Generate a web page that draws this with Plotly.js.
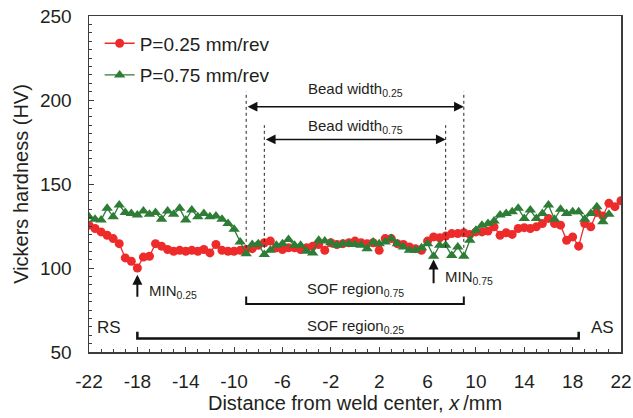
<!DOCTYPE html>
<html>
<head>
<meta charset="utf-8">
<script src="https://cdn.plot.ly/plotly-3.0.1.min.js"></script>
<style>html,body{margin:0;padding:0;background:#fff;}#chart{width:633px;height:418px;}</style>
</head>
<body>
<div id="chart"></div>
<script>
// ---- data ----
const seriesNames = ["P=0.25 mm/rev", "P=0.75 mm/rev"];

const xRed = [-22,-21.5,-21,-20.5,-20,-19.5,-19,-18.5,-18,-17.5,-17,-16.5,-16,-15.5,-15,-14.5,-14,-13.5,-13,-12.5,-12,-11.5,-11,-10.5,-10,-9.5,-9,-8.5,-8,-7.5,-7,-6.5,-6,-5.5,-5,-4.5,-4,-3.5,-3,-2.5,-2,-1.5,-1,-0.5,0,0.5,1,1.5,2,2.5,3,3.5,4,4.5,5,5.5,6,6.5,7,7.5,8,8.5,9,9.5,10,10.5,11,11.5,12,12.5,13,13.5,14,14.5,15,15.5,16,16.5,17,17.5,18,18.5,19,19.5,20,20.5,21,21.5,22];
const hvRed = [125.5,123.5,121.5,119.5,117.5,114.5,106,104,100,106.5,107,114.5,113,111,110,110.5,110,110.5,110,111,109,114,110.5,110,110,110.5,111,111.5,113.5,115,116,112,111,112,112,111,112,113,114,110.5,115,114,114.5,115,116,115,114.5,115,110.5,117.5,117.5,114.5,114,112.5,111.5,110.5,116,118.5,118,119,120.5,120.5,121,120,121.5,121.5,122,124.5,119.5,121,120,123.5,124,123.5,124.5,126.5,129.5,126.5,125.5,116.5,118.5,113,126.5,124.5,133,131,138.5,136.5,140];

const xGreen = [-22,-21.5,-21,-20.5,-20,-19.5,-19,-18.5,-18,-17.5,-17,-16.5,-16,-15.5,-15,-14.5,-14,-13.5,-13,-12.5,-12,-11.5,-11,-10.5,-10,-9.5,-9,-8.5,-8,-7.5,-7,-6.5,-6,-5.5,-5,-4.5,-4,-3.5,-3,-2.5,-2,-1.5,-1,-0.5,0,0.5,1,1.5,2,2.5,3,3.5,4,4.5,5,5.5,6,6.5,7,7.5,8,8.5,9,9.5,10,10.5,11,11.5,12,12.5,13,13.5,14,14.5,15,15.5,16,16.5,17,17.5,18,18.5,19,19.5,20,20.5,21];
const hvGreen = [130.5,129,128.5,135.5,130.5,137.5,133,132.5,131.5,134,132,133,129,134,132,135.5,128.5,134.5,130.5,132.5,130.5,131,129,126.5,123,115.5,108.5,114,114.5,108,110.5,113.5,114.5,117,113.5,113.5,110,109,116.5,116,115,113.5,114.5,114.5,114,113.5,111.5,115.5,114.5,115.5,117.5,114.5,112.5,110.5,110.5,112,114.5,107,113.5,113.5,107.5,112.5,107,116.5,122.5,125.5,126.5,128,131.5,132.5,133.5,135.5,129.5,134.5,129.5,132.5,137.5,129,135,132.5,133.5,133.5,129,132.5,136.5,127.5,132];

const xTickVals = [-22,-18,-14,-10,-6,-2,2,6,10,14,18,22];
const xTickText = ["-22","-18","-14","-10","-6","-2","2","6","10","14","18","22"];
const yTickVals = [50,100,150,200,250];

// region limits (mm) and labels
const bead025 = [-9, 9];
const bead075 = [-7.5, 7.5];
const sof075 = [-9, 9];
const sof025 = [-18, 18.5];
const minX = [-18, 6.5];

const FONT = "Liberation Sans, Arial, Helvetica, sans-serif";
const TXT = "#231f20";
const RED = "#ee2b2b";
const GREEN = "#2e7d36";

const traces = [
  {x: xRed, y: hvRed, name: seriesNames[0], type: "scatter", mode: "lines+markers",
   line: {color: RED, width: 1.3}, marker: {symbol: "circle", size: 9, color: RED},
   legendgroup: "a"},
  {x: xGreen, y: hvGreen, name: seriesNames[1], type: "scatter", mode: "lines+markers",
   line: {color: GREEN, width: 1.3}, marker: {symbol: "triangle-up", size: 10, color: GREEN},
   legendgroup: "b"}
];

const dashStyle = {color: "#222", width: 1, dash: "3px,3px"};
const shapes = [
  {type:"line", xref:"x", yref:"y", x0:bead025[0], x1:bead025[0], y0:112, y1:205, line:dashStyle},
  {type:"line", xref:"x", yref:"y", x0:bead025[1], x1:bead025[1], y0:112, y1:205, line:dashStyle},
  {type:"line", xref:"x", yref:"y", x0:bead075[0], x1:bead075[0], y0:112, y1:185, line:dashStyle},
  {type:"line", xref:"x", yref:"y", x0:bead075[1], x1:bead075[1], y0:112, y1:185, line:dashStyle},
  {type:"path", xref:"x", yref:"y",
   path:`M ${sof075[0]},83 L ${sof075[0]},78.5 L ${sof075[1]},78.5 L ${sof075[1]},83`,
   line:{color:"#111", width:2}},
  {type:"path", xref:"x", yref:"y",
   path:`M ${sof025[0]},62 L ${sof025[0]},58 L ${sof025[1]},58 L ${sof025[1]},62`,
   line:{color:"#111", width:2.5}}
];

const annFont = {family: FONT, size: 15, color: TXT};
const annotations = [
  // bead width arrows
  {x: bead025[1], y: 196, ax: bead025[0], ay: 196, xref:"x", yref:"y", axref:"x", ayref:"y",
   text:"", showarrow:true, arrowside:"end+start", arrowhead:2, arrowsize:1.3, arrowwidth:1.5, arrowcolor:"#111", standoff:0, startstandoff:0},
  {x: bead075[1], y: 176.5, ax: bead075[0], ay: 176.5, xref:"x", yref:"y", axref:"x", ayref:"y",
   text:"", showarrow:true, arrowside:"end+start", arrowhead:2, arrowsize:1.3, arrowwidth:1.5, arrowcolor:"#111", standoff:0, startstandoff:0},
  {x: 0, y: 206, xref:"x", yref:"y", text:"Bead width<sub>0.25</sub>", showarrow:false, font:annFont},
  {x: 0, y: 184.5, xref:"x", yref:"y", text:"Bead width<sub>0.75</sub>", showarrow:false, font:annFont},
  // SOF regions
  {x: 0, y: 87, xref:"x", yref:"y", text:"SOF region<sub>0.75</sub>", showarrow:false, font:annFont},
  {x: 0, y: 65, xref:"x", yref:"y", text:"SOF region<sub>0.25</sub>", showarrow:false, font:annFont},
  // MIN arrows
  {x: minX[0], y: 96, ax: minX[0], ay: 82, xref:"x", yref:"y", axref:"x", ayref:"y",
   text:"", showarrow:true, arrowhead:2, arrowsize:1, arrowwidth:2, arrowcolor:"#111", standoff:0},
  {x: minX[1], y: 105, ax: minX[1], ay: 90, xref:"x", yref:"y", axref:"x", ayref:"y",
   text:"", showarrow:true, arrowhead:2, arrowsize:1, arrowwidth:2, arrowcolor:"#111", standoff:0},
  {x: minX[0] + 0.8, y: 86, xref:"x", yref:"y", xanchor:"left", text:"MIN<sub>0.25</sub>", showarrow:false, font:annFont},
  {x: minX[1] + 0.8, y: 94.5, xref:"x", yref:"y", xanchor:"left", text:"MIN<sub>0.75</sub>", showarrow:false, font:annFont},
  // RS / AS
  {x: -21.5, y: 64.5, xref:"x", yref:"y", xanchor:"left", text:"RS", showarrow:false, font:{family:FONT, size:17, color:TXT}},
  {x: 21.6, y: 64.5, xref:"x", yref:"y", xanchor:"right", text:"AS", showarrow:false, font:{family:FONT, size:17, color:TXT}}
];

const axisCommon = {
  showline: true, mirror: true, linecolor: "#3c3c3c", linewidth: 1.5,
  showgrid: false, zeroline: false,
  ticks: "inside", tickcolor: "#3c3c3c", tickwidth: 1,
  tickfont: {family: FONT, size: 19, color: TXT}
};

const layout = {
  width: 633, height: 418,
  margin: {l: 89, r: 12, t: 16, b: 66},
  paper_bgcolor: "#fff", plot_bgcolor: "#fff",
  font: {family: FONT, color: TXT},
  showlegend: true,
  legend: {x: 0.02, y: 0.975, xanchor: "left", yanchor: "top", bgcolor: "rgba(0,0,0,0)",
           font: {family: FONT, size: 19, color: TXT}, tracegroupgap: 4},
  xaxis: Object.assign({}, axisCommon, {
    range: [-22, 22], tickmode: "array", tickvals: xTickVals, ticktext: xTickText, ticklen: 5,
    ticklabelstandoff: 12,
    minor: {dtick: 1, tick0: -22, ticks: "inside", ticklen: 3, tickcolor: "#3c3c3c", showgrid: false},
    title: {text: "Distance from weld center, <i>x</i>\u2009/mm", font: {family: FONT, size: 20, color: TXT}, standoff: 4}
  }),
  yaxis: Object.assign({}, axisCommon, {
    range: [50, 250], tickmode: "array", tickvals: yTickVals, ticklen: 5,
    ticklabelstandoff: 12,
    minor: {dtick: 5, tick0: 50, ticks: "inside", ticklen: 3, tickcolor: "#3c3c3c", showgrid: false},
    title: {text: "Vickers hardness (HV)", font: {family: FONT, size: 20, color: TXT}, standoff: 6}
  }),
  shapes: shapes,
  annotations: annotations
};

Plotly.newPlot("chart", traces, layout, {staticPlot: true, displayModeBar: false});
</script>
</body>
</html>
